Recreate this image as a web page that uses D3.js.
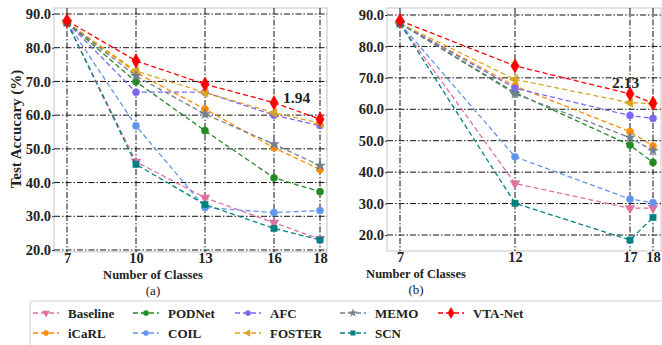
<!DOCTYPE html>
<html>
<head>
<meta charset="utf-8">
<script src="https://cdn.jsdelivr.net/npm/d3@7"></script>
<style>
  body { margin: 0; background: #fff; }
  svg text { font-family: "Liberation Serif", "Times New Roman", serif; }
</style>
</head>
<body>
<svg id="chart" width="662" height="345"></svg>
<script>
// ---- data ----
const methods = ["Baseline", "iCaRL", "PODNet", "COIL", "AFC", "FOSTER", "MEMO", "SCN", "VTA-Net"]
const colors = ["#e0709f", "#ff8c00", "#228b22", "#6495ed", "#7b68ee", "#daa520", "#708090", "#008080", "#ff0000"]

const classesA = [7, 10, 13, 16, 18]
const baselineA = [87.5, 46.2, 35.5, 28.1, 23.2]
const icarlA    = [87.5, 72.6, 61.8, 50.3, 43.9]
const podnetA   = [87.5, 69.9, 55.4, 41.4, 37.3]
const coilA     = [87.5, 56.8, 32.6, 31.1, 31.7]
const afcA      = [87.5, 66.8, 66.8, 60.0, 56.9]
const fosterA   = [87.5, 73.1, 66.7, 60.7, 57.6]
const memoA     = [87.5, 71.6, 60.3, 51.4, 45.0]
const scnA      = [87.5, 45.4, 33.5, 26.4, 23.0]
const vtaA      = [88.0, 76.1, 69.2, 63.7, 58.8]

const classesB = [7, 12, 17, 18]
const baselineB = [87.3, 36.4, 28.5, 28.6]
const icarlB    = [87.3, 67.4, 52.9, 48.3]
const podnetB   = [87.3, 65.3, 48.6, 43.1]
const coilB     = [87.3, 44.9, 31.4, 30.3]
const afcB      = [87.3, 66.7, 58.0, 57.1]
const fosterB   = [87.3, 69.5, 62.1, 61.8]
const memoB     = [87.3, 64.9, 51.0, 46.8]
const scnB      = [87.3, 30.1, 18.4, 25.6]
const vtaB      = [88.2, 73.8, 64.9, 61.9]

const yTicks = [20, 30, 40, 50, 60, 70, 80, 90]
const gapA = { x: 16, y: 63.7, label: "1.94" }
const gapB = { x: 17, y: 64.9, label: "2.13" }

const symbols = [d3.symbolTriangle, d3.symbolCircle, d3.symbolCircle, d3.symbolCircle,
                 d3.symbolCircle, d3.symbolTriangle, d3.symbolStar, d3.symbolSquare, d3.symbolDiamond]
const rotations = [180, 0, 0, 0, 0, -90, 0, 0, 0]

const svg = d3.select("#chart")

function drawPanel(opts) {
    const { classes, series, frame, xRange, yRange, gap, gapOffset, xLabelX, tag } = opts

    const x = d3.scaleLinear().domain([7, 18]).range(xRange)
    const y = d3.scaleLinear().domain([20, 90]).range(yRange)

    const g = svg.append("g")

    // frame
    g.append("rect")
        .attr("x", frame.left).attr("y", frame.top)
        .attr("width", frame.right - frame.left)
        .attr("height", frame.bottom - frame.top)
        .attr("fill", "#fff")
        .attr("stroke", "#cfcfcf")
        .attr("stroke-width", 1.2)

    // grid (dash-dot)
    g.selectAll(".vg").data(classes).enter().append("line")
        .attr("x1", d => x(d)).attr("x2", d => x(d))
        .attr("y1", frame.top).attr("y2", frame.bottom)
        .attr("stroke", "#111").attr("stroke-width", 1)
        .style("stroke-dasharray", "6,2,1.5,2")
    g.selectAll(".hg").data(yTicks).enter().append("line")
        .attr("x1", frame.left).attr("x2", frame.right)
        .attr("y1", d => y(d)).attr("y2", d => y(d))
        .attr("stroke", "#111").attr("stroke-width", 1)
        .style("stroke-dasharray", "6,2,1.5,2")

    // axes
    const xAxis = d3.axisBottom(x).tickValues(classes).tickSize(0).tickPadding(1).tickFormat(d3.format("d"))
    const yAxis = d3.axisLeft(y).tickValues(yTicks).tickSize(2).tickPadding(1).tickFormat(d3.format(".1f"))

    const xa = g.append("g").attr("transform", `translate(0,${frame.bottom})`).call(xAxis)
    const ya = g.append("g").attr("transform", `translate(${frame.left},0)`).call(yAxis)
    for (const a of [xa, ya]) {
        a.select(".domain").remove()
        a.selectAll("line").attr("stroke", "#333")
        a.selectAll("text")
            .attr("fill", "#222")
            .style("font-size", "14.5px")
            .style("font-weight", "bold")
            .style("font-family", "'Liberation Serif', serif")
    }

    // series
    const line = d3.line().x((d, i) => x(classes[i])).y(d => y(d))
    series.forEach((vals, k) => {
        g.append("path")
            .datum(vals)
            .attr("d", line)
            .attr("fill", "none")
            .attr("stroke", colors[k])
            .attr("stroke-width", 1.3)
            .style("stroke-dasharray", "5,3")
        const sym = d3.symbol().type(symbols[k]).size(k == 8 ? 60 : (k == 6 ? 34 : 40))
        g.selectAll(null).data(vals).enter().append("path")
            .attr("d", sym)
            .attr("transform", (d, i) => `translate(${x(classes[i])},${y(d)}) rotate(${rotations[k]})`)
            .attr("fill", colors[k])
            .attr("stroke", colors[k])
            .attr("stroke-width", 0.5)
    })

    // gap annotation
    g.append("text")
        .attr("x", x(gap.x) + gapOffset[0]).attr("y", y(gap.y) + gapOffset[1])
        .style("font-size", "15.5px").style("font-weight", "bold")
        .attr("fill", "#222")
        .text(gap.label)

    g.append("text")
        .attr("x", xLabelX).attr("y", frame.bottom + 27)
        .attr("text-anchor", "middle")
        .style("font-size", "12.5px").style("font-weight", "bold")
        .attr("fill", "#222")
        .text("Number of Classes")
    g.append("text")
        .attr("x", xLabelX).attr("y", frame.bottom + 43)
        .attr("text-anchor", "middle")
        .style("font-size", "13px")
        .attr("fill", "#222")
        .text(tag)
}

drawPanel({
    classes: classesA,
    series: [baselineA, icarlA, podnetA, coilA, afcA, fosterA, memoA, scnA, vtaA],
    frame: { left: 54, right: 327, top: 8, bottom: 252 },
    xRange: [67, 320], yRange: [250, 14],
    gap: gapA, gapOffset: [9, 0], xLabelX: 153, tag: "(a)"
})

drawPanel({
    classes: classesB,
    series: [baselineB, icarlB, podnetB, coilB, afcB, fosterB, memoB, scnB, vtaB],
    frame: { left: 387, right: 661, top: 8, bottom: 251 },
    xRange: [400, 653], yRange: [235, 15],
    gap: gapB, gapOffset: [-18, -6], xLabelX: 416, tag: "(b)"
})

// y label
svg.append("text")
    .attr("transform", "translate(21,129) rotate(-90)")
    .attr("text-anchor", "middle")
    .style("font-size", "15px").style("font-weight", "bold")
    .attr("fill", "#222")
    .text("Test Accucary (%)")

// legend
const legend = svg.append("g")
legend.append("rect")
    .attr("x", 30).attr("y", 301).attr("width", 640).attr("height", 60)
    .attr("rx", 3)
    .attr("fill", "#fff").attr("stroke", "#d0d0d0").attr("stroke-width", 1)

const legOrder = [0, 2, 4, 6, 8, 1, 3, 5, 7] // row-wise order as in figure
const colX = [33, 133, 235, 340, 438]
const rowY = [313, 333]
legOrder.forEach((k, idx) => {
    const col = idx < 5 ? idx : idx - 5
    const row = idx < 5 ? 0 : 1
    const lx = colX[col], ly = rowY[row]
    const item = legend.append("g")
    item.append("line")
        .attr("x1", lx).attr("x2", lx + 26).attr("y1", ly).attr("y2", ly)
        .attr("stroke", colors[k]).attr("stroke-width", 1.3)
        .style("stroke-dasharray", "5,3")
    item.append("path")
        .attr("d", d3.symbol().type(symbols[k]).size(k == 8 ? 40 : 25))
        .attr("transform", `translate(${lx + 13},${ly}) rotate(${rotations[k]})`)
        .attr("fill", colors[k])
    item.append("text")
        .attr("x", lx + 35).attr("y", ly + 4.5)
        .style("font-size", "13px").style("font-weight", "bold")
        .attr("fill", "#222")
        .text(methods[k])
})
</script>
</body>
</html>
